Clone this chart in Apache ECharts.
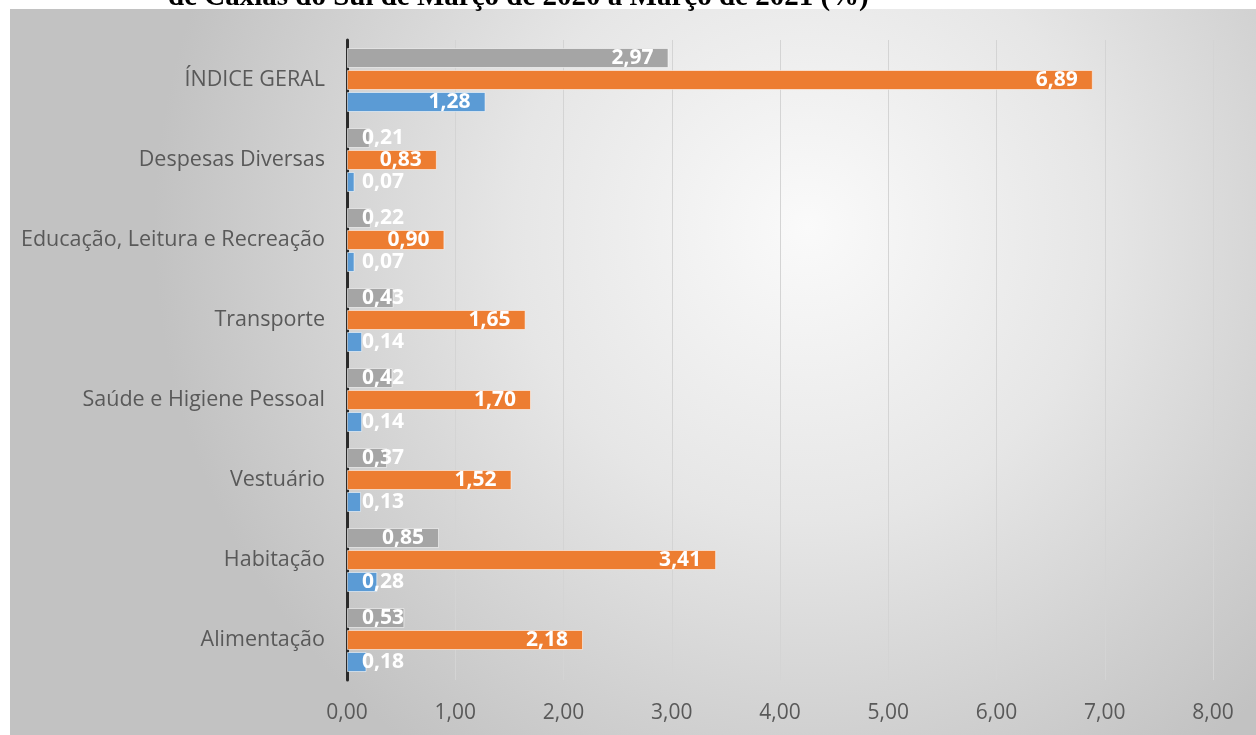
<!DOCTYPE html>
<html><head><meta charset="utf-8">
<script src="https://cdn.jsdelivr.net/npm/echarts@6/dist/echarts.min.js"></script>
<style>html,body{margin:0;padding:0;background:#fff}#c{width:1256px;height:735px}</style>
</head><body><div id="c"></div>
<script>
const titleText = 'de Caxias do Sul de Março de 2020 a Março de 2021 (%)';
const categories = ['Alimentação','Habitação','Vestuário','Saúde e Higiene Pessoal','Transporte','Educação, Leitura e Recreação','Despesas Diversas','ÍNDICE GERAL'];
const grayValues   = [0.53, 0.85, 0.37, 0.42, 0.43, 0.22, 0.21, 2.97];
const orangeValues = [2.18, 3.41, 1.52, 1.70, 1.65, 0.90, 0.83, 6.89];
const blueValues   = [0.18, 0.28, 0.13, 0.14, 0.14, 0.07, 0.07, 1.28];
const xTicks = [0,1,2,3,4,5,6,7,8];

function fmt(v){ return v.toFixed(2).replace('.', ','); }
function mk(vals){
  return vals.map(v => ({
    value: v,
    label: v < 0.62 ? {position:'insideLeft', distance: 15} : {position:'insideRight', distance: 15}
  }));
}
const chart = echarts.init(document.getElementById('c'));
const labelStyle = {show:true, color:'#fff', fontWeight:'bold', fontSize:21, fontFamily:'Open Sans', formatter: p => fmt(p.value)};
function ser(name, vals, color){
  return {name, type:'bar', data: mk(vals), itemStyle:{color, borderColor:'rgba(255,255,255,0.55)', borderWidth:1},
    label: labelStyle, barCategoryGap:'20%', barGap:'10%'};
}
chart.setOption({
  animation:false,
  backgroundColor:'#fff',
  graphic:[
    {type:'rect', z:-10, silent:true, shape:{x:10,y:9,width:1246,height:726},
     style:{fill:{type:'radial', x:0.64, y:0.3, r:0.9, colorStops:[{offset:0,color:'#fafafa'},{offset:0.45,color:'#e6e6e6'},{offset:1,color:'#c2c2c2'}]}}},
    {type:'text', z:10, style:{x:168, y:12, text:titleText, font:'bold 29px "Liberation Serif"', fill:'#000', textVerticalAlign:'bottom', textAlign:'left'}}
  ],
  grid:{left:347, right:43, top:40, bottom:55, containLabel:false},
  xAxis:{type:'value', min:0, max:8, interval:1,
    axisLabel:{formatter: v => fmt(v), color:'#595959', fontSize:21, fontFamily:'Open Sans', margin:23},
    splitLine:{show:true, lineStyle:{color:'#d4d4d4', width:1}},
    axisLine:{show:false}, axisTick:{show:false}},
  yAxis:{type:'category', data:categories,
    axisLabel:{color:'#595959', fontSize:21.5, fontFamily:'Open Sans', margin:22},
    axisLine:{show:true, lineStyle:{color:'#2a2a2a', width:3}},
    axisTick:{show:false}},
  series:[ ser('C', grayValues, '#A5A5A5'), ser('B', orangeValues, '#ED7D31'), ser('A', blueValues, '#5B9BD5') ]
});
</script></body></html>
